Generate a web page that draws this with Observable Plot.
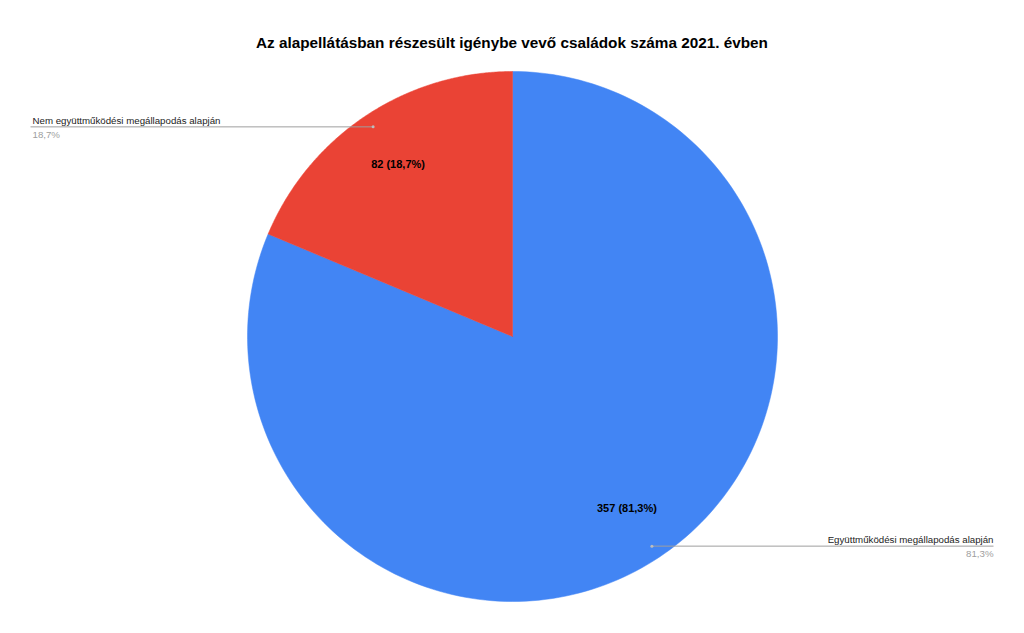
<!DOCTYPE html>
<html><head><meta charset="utf-8">
<script src="https://cdn.jsdelivr.net/npm/d3@7"></script>
<script src="https://cdn.jsdelivr.net/npm/@observablehq/plot@0.6"></script>
<style>
body{margin:0;background:#fff;font-family:"Liberation Sans",Arial,sans-serif}
#title{height:60px;box-sizing:border-box;padding-top:33px;text-align:center;font-weight:bold;font-size:15.3px;line-height:20px;color:#000}
</style></head>
<body>
<div id="title">Az alapellátásban részesült igénybe vevő családok száma 2021. évben</div>
<div id="chart"></div>
<script>
const categories = ["Együttműködési megállapodás alapján", "Nem együttműködési megállapodás alapján"];
const values = [357, 82];
const colors = ["#4285F4", "#EA4335"];

const W = 1024, H = 573, CX = 512, CY = 276, R = 265;
const total = d3.sum(values);
const pct = v => (v / total * 100).toFixed(1).replace(".", ",") + "%";
const arcs = d3.pie().sort(null).value(d => d)(values);

// slice outlines in unit coordinates (angles clockwise from 12 o'clock)
const slicePts = [];
arcs.forEach((a, i) => {
  slicePts.push({k: i, x: 0, y: 0});
  const n = 200;
  for (let j = 0; j <= n; j++) {
    const t = a.startAngle + (a.endAngle - a.startAngle) * j / n;
    slicePts.push({k: i, x: Math.sin(t), y: Math.cos(t)});
  }
  slicePts.push({k: i, x: 0, y: 0});
});

const ux = p => (p - CX) / R;
const mids = arcs.map((a, i) => {
  const m = (a.startAngle + a.endAngle) / 2;
  return {i, m, sx: Math.sin(m), cy: Math.cos(m), left: Math.sin(m) < 0};
});
const inner = mids.map(d => ({x: d.sx * 0.78, y: d.cy * 0.78, label: values[d.i] + " (" + pct(values[d.i]) + ")"}));
const leaders = mids.map(d => ({
  x1: d.sx * 0.95, y1: d.cy * 0.95,
  x2: d.left ? ux(30) : ux(993), y2: d.cy * 0.95,
  tx: d.left ? ux(32) : ux(993),
  left: d.left,
  name: categories[d.i], p: pct(values[d.i])
}));
const leftL = leaders.filter(d => d.left), rightL = leaders.filter(d => !d.left);

const chart = Plot.plot({
  width: W, height: H, margin: 0,
  x: {domain: [-1, 1], range: [CX - R, CX + R], axis: null},
  y: {domain: [-1, 1], range: [CY + R, CY - R], axis: null},
  style: {fontFamily: '"Liberation Sans", Arial, sans-serif', background: "#fff"},
  marks: [
    Plot.line(slicePts, {x: "x", y: "y", z: "k", fill: d => colors[d.k], stroke: d => colors[d.k], strokeWidth: 0.5, curve: "linear"}),
    Plot.link(leaders, {x1: "x1", y1: "y1", x2: "x2", y2: "y2", stroke: "#9e9e9e", strokeWidth: 1}),
    Plot.dot(leaders, {x: "x1", y: "y1", r: 1.5, fill: "#bdbdbd"}),
    Plot.text(leftL, {x: "tx", y: "y2", text: "name", textAnchor: "start", dy: -6, fontSize: 9.7, fill: "#222"}),
    Plot.text(leftL, {x: "tx", y: "y2", text: "p", textAnchor: "start", dy: 8, fontSize: 9.7, fill: "#9e9e9e"}),
    Plot.text(rightL, {x: "tx", y: "y2", text: "name", textAnchor: "end", dy: -6, fontSize: 9.7, fill: "#222"}),
    Plot.text(rightL, {x: "tx", y: "y2", text: "p", textAnchor: "end", dy: 8, fontSize: 9.7, fill: "#9e9e9e"}),
    Plot.text(inner, {x: "x", y: "y", text: "label", fontSize: 11, fontWeight: "bold", fill: "#000"})
  ]
});
document.getElementById("chart").appendChild(chart);
</script>
</body></html>
